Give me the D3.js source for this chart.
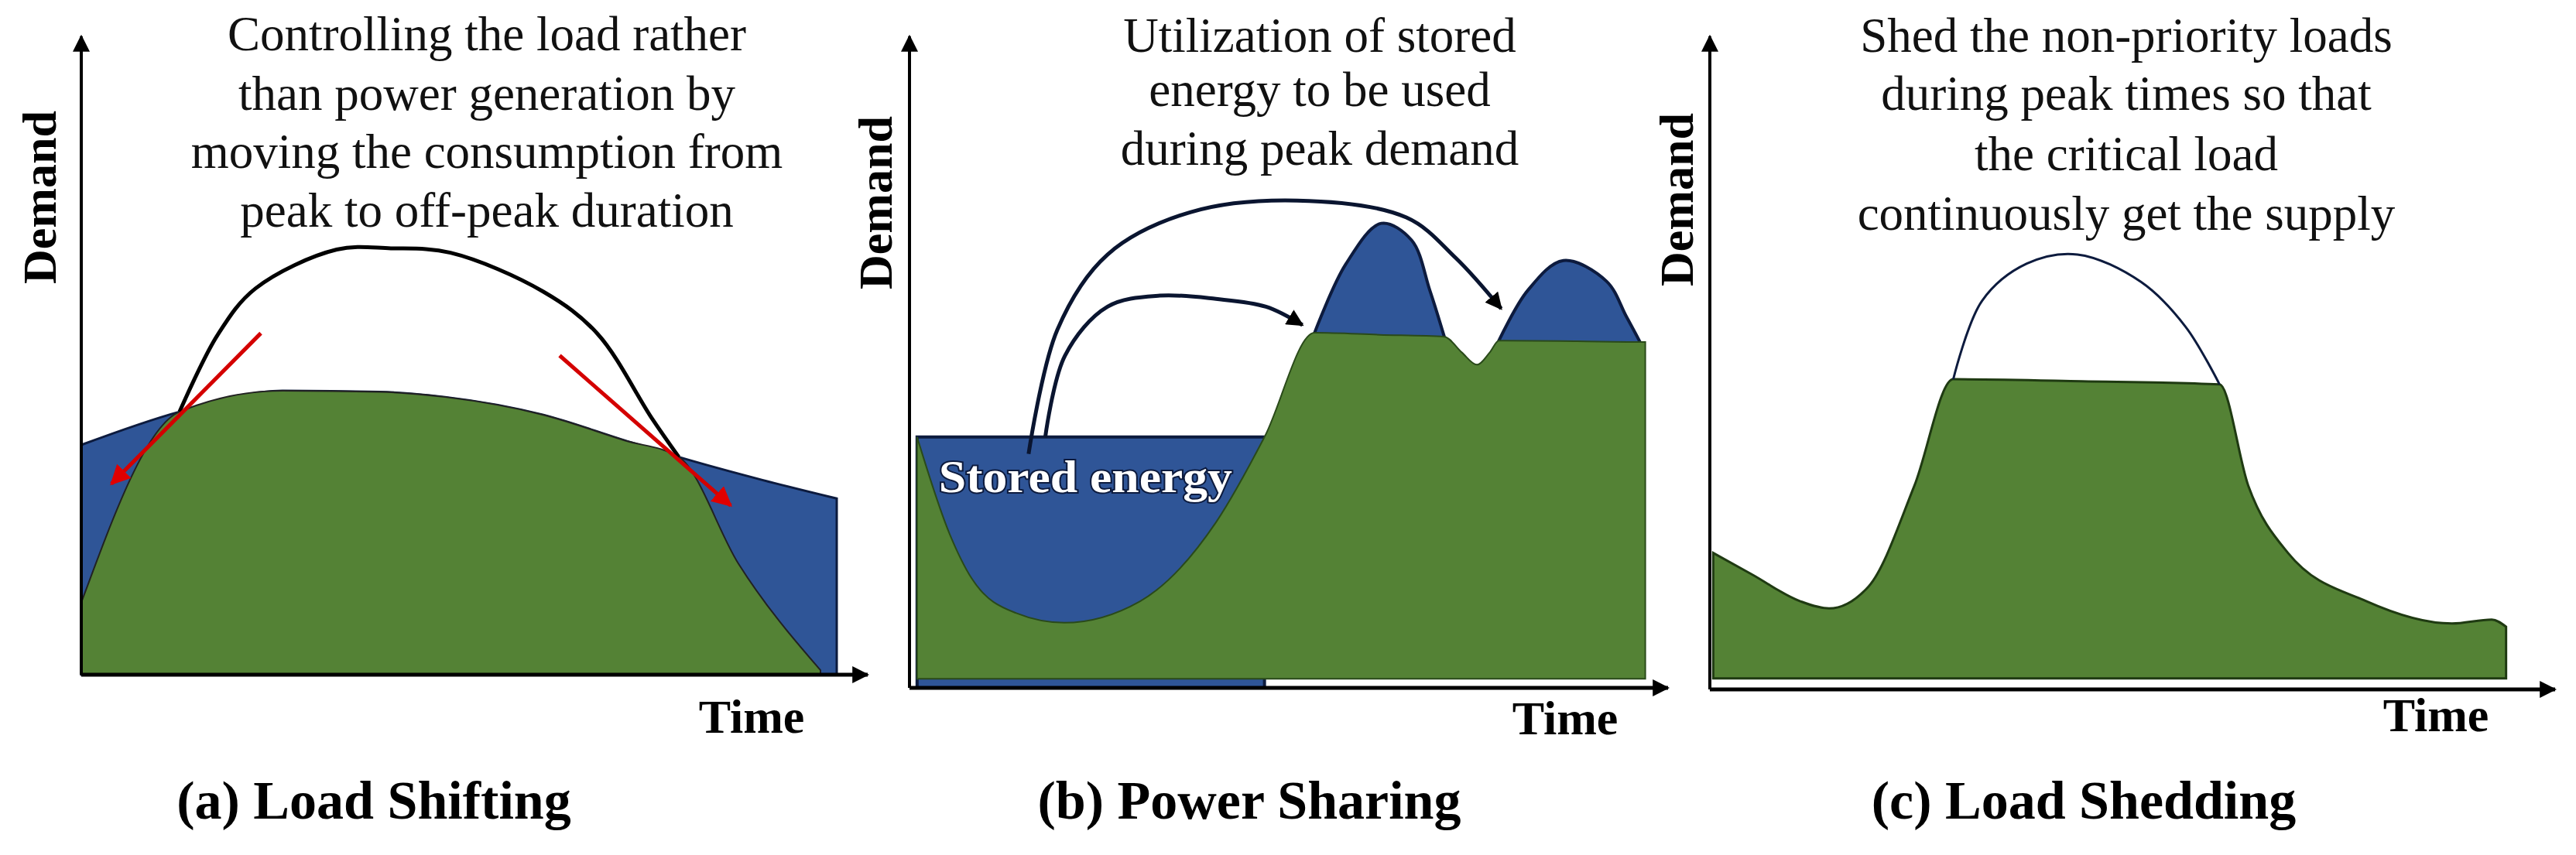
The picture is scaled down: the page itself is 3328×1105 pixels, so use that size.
<!DOCTYPE html>
<html><head><meta charset="utf-8">
<script src="https://cdn.jsdelivr.net/npm/d3@7"></script>
<style>body{margin:0;background:#fff}svg{display:block}</style>
</head><body>
<script>
// ---------- DATA (time 0..100, demand 0..100) ----------
const panelCaptions = ["(a) Load Shifting", "(b) Power Sharing", "(c) Load Shedding"];
const titleA = ["Controlling the load rather", "than power generation by", "moving the consumption from", "peak to off-peak duration"];
const titleB = ["Utilization  of stored", "energy to be used", "during peak demand"];
const titleC = ["Shed the non-priority loads", "during peak times so that", "the critical load", "continuously get the supply"];
const axisLabels = ["Demand", "Time"];
const storedLabel = "Stored energy";

// (a) Load shifting
const aShifted = [[0,36],[12.7,41.2],[26,44.5],[38.6,44.3],[47,43.5],[59.7,40.7],[70.2,36.7],[77.2,34.1],[88,30.5],[97.6,27.6]];
const aGreen = [[0,11.3],[12.7,41.2],[26,44.5],[38.6,44.3],[47,43.5],[59.7,40.7],[70.2,36.7],[77.2,34.1],[84.9,17.4],[95.5,0.7]];
const aOriginal = [[12.7,41.2],[17.6,53.2],[22.5,60.5],[33,66.6],[40,66.8],[47.7,66.1],[59.7,60],[66.7,53.4],[73.7,40.2],[77.2,34.1]];
const aArrows = [[[23.2,53.5],[3.9,29.9]], [[61.8,50],[83.9,26.5]]];

// (b) Power sharing
const bGreen = [[1,38.5],[5.3,23.6],[8.2,16.8],[14,11.5],[20.4,10],[30.4,13.3],[40.4,25.4],[46.8,38.5],[53.4,54.5],[62,54.2],[70.5,53.9],[72.8,51.5],[74.8,49.6],[76.5,51.5],[77.7,53.3],[88,53.2],[96.3,53.1],[97,53.1]];
const bStoredTop = [[1,38.5],[46.8,38.5]];
const bPeak1 = [[53.4,54.5],[57.5,65],[62.2,71.3],[66.2,68.7],[68.6,61],[70.5,53.9]];
const bPeak2 = [[77.7,53.3],[81.5,61],[86.2,65.6],[91.9,62.4],[94.5,57],[96.3,53.1]];
const bArrowBig = [[15.7,35.9],[19.5,55],[26.1,66.5],[37,73],[51.1,74.8],[65.5,72.2],[72,66],[78,58.2]];
const bArrowSmall = [[17.9,38.5],[20.5,51],[26.1,58.5],[33,60.2],[40.4,59.7],[47,58.5],[51.8,55.7]];
const bStoredPos = [23.2,30];

// (c) Load shedding
const cGreen = [[0.4,20.9],[5,17.6],[10.7,13.5],[14.1,12.4],[18.8,15.8],[24.2,31.2],[28.8,47.5],[44,47.2],[60.3,46.7],[63.7,31.2],[68.4,20.9],[77.7,13.5],[87.8,10.1],[92.5,10.7],[94.2,9.6]];
const cOriginal = [[28.8,47.5],[32.2,59.5],[37.5,65.2],[43.5,66.6],[51,62.4],[56.3,55.5],[60.3,46.7]];

// ---------- DRAW ----------
const W = 3328, H = 1105;
const BLUE = "#2f5597", GREEN = "#548235", NAVY = "#0d1b3e";
const svg = d3.select("body").append("svg").attr("width", W).attr("height", H);
const defs = svg.append("defs");
function marker(id, color, size) {
  defs.append("marker").attr("id", id).attr("viewBox", "0 0 10 10").attr("refX", 9).attr("refY", 5)
    .attr("markerWidth", size).attr("markerHeight", size).attr("markerUnits", "userSpaceOnUse").attr("orient", "auto")
    .append("path").attr("d", "M0,0 L10,5 L0,10 Z").attr("fill", color);
}
marker("axArrow", "#000", 22); marker("redArrow", "#e00000", 26); marker("blkArrow", "#000", 22);

const panels = [
  {x:[105,1105], y:[872,47], xLen:101.6, title:titleA, tx:629, ty:[65,142,217,293], time:[971,947], dem:[50,255], cap:[483,1058]},
  {x:[1175,2155], y:[889,47], xLen:100, title:titleB, tx:1705, ty:[67,137,213], time:[2022,949], dem:[1130,262], cap:[1614,1058]},
  {x:[2209,3301], y:[891,47], xLen:100, title:titleC, tx:2747, ty:[67,142,220,297], time:[3147,945], dem:[2165,258], cap:[2692,1058]}
];
const sc = panels.map(p => ({x: d3.scaleLinear().domain([0,100]).range(p.x), y: d3.scaleLinear().domain([0,100]).range(p.y)}));

function area(s, base, curve) {
  return d3.area().x(d => s.x(d[0])).y0(s.y(base)).y1(d => s.y(d[1])).curve(curve || d3.curveMonotoneX);
}
function line(s, curve) { return d3.line().x(d => s.x(d[0])).y(d => s.y(d[1])).curve(curve || d3.curveCatmullRom); }

// Panel A
{
  const s = sc[0], g = svg.append("g");
  g.append("path").attr("d", area(s, 0)(aShifted)).attr("fill", BLUE).attr("stroke", NAVY).attr("stroke-width", 3);
  g.append("path").attr("d", area(s, 0)(aGreen)).attr("fill", GREEN).attr("stroke", "#222").attr("stroke-width", 2);
  g.append("path").attr("d", line(s)(aOriginal)).attr("fill", "none").attr("stroke", "#000").attr("stroke-width", 5);
  aArrows.forEach(a => g.append("path").attr("d", line(s, d3.curveLinear)(a)).attr("stroke", "#d40000").attr("stroke-width", 5).attr("marker-end", "url(#redArrow)"));
}
// Panel B
{
  const s = sc[1], g = svg.append("g");
  g.append("path").attr("d", area(s, 0, d3.curveLinear)(bStoredTop)).attr("fill", BLUE).attr("stroke", NAVY).attr("stroke-width", 4);
  [bPeak1, bPeak2].forEach(p => g.append("path").attr("d", area(s, 45, d3.curveCatmullRom)(p)).attr("fill", BLUE).attr("stroke", NAVY).attr("stroke-width", 4));
  g.append("path").attr("d", area(s, 1.4)(bGreen)).attr("fill", GREEN).attr("stroke", "#2a4a1a").attr("stroke-width", 2);
  g.append("path").attr("d", line(s)(bArrowBig)).attr("fill", "none").attr("stroke", "#0a1530").attr("stroke-width", 5).attr("marker-end", "url(#blkArrow)");
  g.append("path").attr("d", line(s)(bArrowSmall)).attr("fill", "none").attr("stroke", "#0a1530").attr("stroke-width", 5).attr("marker-end", "url(#blkArrow)");
  g.append("text").attr("x", s.x(bStoredPos[0])).attr("y", s.y(bStoredPos[1])).attr("text-anchor", "middle")
    .attr("font-family", "Liberation Serif").attr("font-weight", "bold").attr("font-size", 60).attr("textLength", 379).attr("lengthAdjust", "spacingAndGlyphs")
    .attr("fill", "#fff").attr("stroke", NAVY).attr("stroke-width", 4).attr("paint-order", "stroke").text(storedLabel);
}
// Panel C
{
  const s = sc[2], g = svg.append("g");
  g.append("path").attr("d", area(s, 1.7)(cGreen)).attr("fill", GREEN).attr("stroke", "#1f3a12").attr("stroke-width", 3);
  g.append("path").attr("d", line(s)(cOriginal)).attr("fill", "none").attr("stroke", NAVY).attr("stroke-width", 3);
}

// axes, titles, labels
panels.forEach((p, i) => {
  const s = sc[i], g = svg.append("g");
  g.append("line").attr("x1", s.x(0)).attr("x2", s.x(0)).attr("y1", s.y(0)).attr("y2", s.y(100)).attr("stroke", "#000").attr("stroke-width", 4).attr("marker-end", "url(#axArrow)");
  g.append("line").attr("x1", s.x(0)).attr("x2", s.x(p.xLen)).attr("y1", s.y(0)).attr("y2", s.y(0)).attr("stroke", "#000").attr("stroke-width", 5).attr("marker-end", "url(#axArrow)");
  p.title.forEach((t, j) => g.append("text").attr("x", p.tx).attr("y", p.ty[j]).attr("text-anchor", "middle")
    .attr("font-family", "Liberation Serif").attr("font-size", 63).attr("fill", "#111").text(t));
  g.append("text").attr("x", p.time[0]).attr("y", p.time[1]).attr("text-anchor", "middle")
    .attr("font-family", "Liberation Serif").attr("font-weight", "bold").attr("font-size", 62).text(axisLabels[1]);
  g.append("text").attr("transform", `translate(${p.dem[0]},${p.dem[1]}) rotate(-90)`).attr("text-anchor", "middle").attr("dy", "0.35em")
    .attr("font-family", "Liberation Serif").attr("font-weight", "bold").attr("font-size", 62).text(axisLabels[0]);
  g.append("text").attr("x", p.cap[0]).attr("y", p.cap[1]).attr("text-anchor", "middle")
    .attr("font-family", "Liberation Serif").attr("font-weight", "bold").attr("font-size", 70).text(panelCaptions[i]);
});
</script>
</body></html>
